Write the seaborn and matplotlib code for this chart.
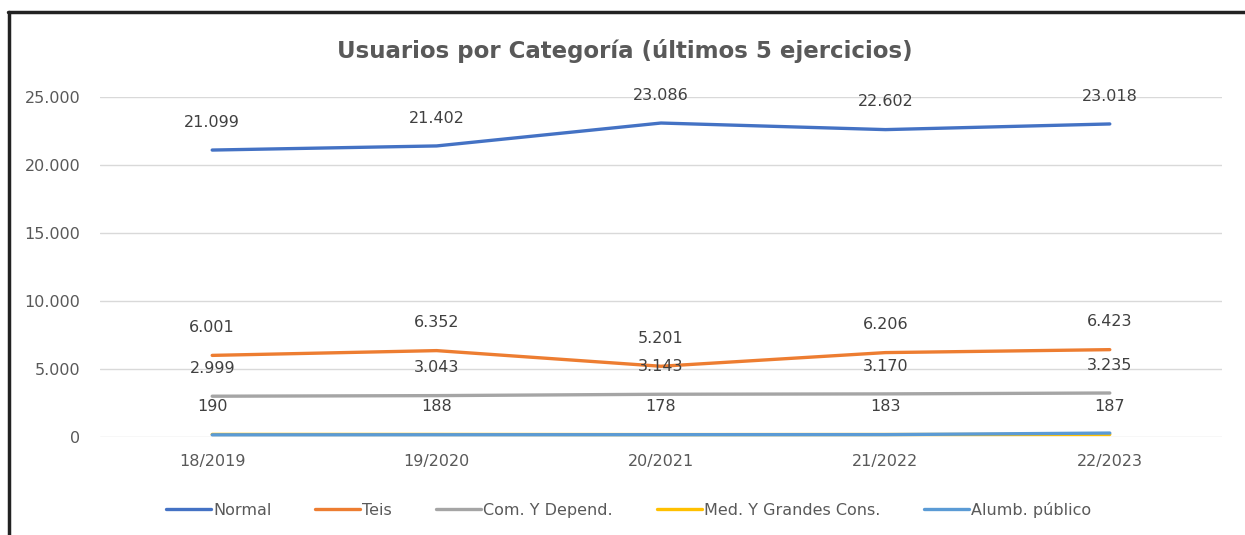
import pandas as pd
import seaborn as sns
import matplotlib.pyplot as plt
from matplotlib.lines import Line2D
from matplotlib.ticker import FuncFormatter

# datos
ejercicios = ["18/2019", "19/2020", "20/2021", "21/2022", "22/2023"]
normal = [21099, 21402, 23086, 22602, 23018]
teis = [6001, 6352, 5201, 6206, 6423]
com_depend = [2999, 3043, 3143, 3170, 3235]
med_grandes = [190, 188, 178, 183, 187]
alumbrado = [160, 165, 170, 175, 290]

series = {
    "Normal": normal,
    "Teis": teis,
    "Com. Y Depend.": com_depend,
    "Med. Y Grandes Cons.": med_grandes,
    "Alumb. público": alumbrado,
}
colores = ["#4472C4", "#ED7D31", "#A5A5A5", "#FFC000", "#5B9BD5"]
con_etiquetas = ["Normal", "Teis", "Com. Y Depend.", "Med. Y Grandes Cons."]

filas = []
for nombre, valores in series.items():
    for i, v in enumerate(valores):
        filas.append({"Ejercicio": i, "Categoria": nombre, "Usuarios": v})
df = pd.DataFrame(filas)

sns.set_style("white")
plt.rcParams["font.family"] = ["DejaVu Sans"]

fig = plt.figure(figsize=(12.45, 5.35), dpi=100)
ax = fig.add_axes([100 / 1245, 98 / 535, 1122 / 1245, 340 / 535])

sns.lineplot(data=df, x="Ejercicio", y="Usuarios", hue="Categoria",
             palette=colores, linewidth=2.4, ax=ax, legend=False)

# etiquetas de valor
fmt = lambda v: f"{v:,.0f}".replace(",", ".")
for nombre in con_etiquetas:
    for i, v in enumerate(series[nombre]):
        ax.annotate(fmt(v), (i, v), xytext=(0, 20), textcoords="offset points",
                    ha="center", va="center", fontsize=11.5, color="#404040")

ax.set_xlim(-0.5, len(ejercicios) - 0.5)
ax.set_ylim(0, 25000)
ax.set_yticks(range(0, 25001, 5000))
ax.yaxis.set_major_formatter(FuncFormatter(lambda v, p: fmt(v)))
ax.set_xticks(range(len(ejercicios)))
ax.set_xticklabels(ejercicios)
ax.grid(axis="y", color="#D9D9D9", linewidth=1)
ax.set_axisbelow(True)
for s in ax.spines.values():
    s.set_visible(False)
ax.tick_params(axis="both", length=0, labelsize=11.5, labelcolor="#595959")
ax.tick_params(axis="y", pad=14)
ax.tick_params(axis="x", pad=12)
ax.set_xlabel("")
ax.set_ylabel("")

fig.text(0.502, 1 - 51 / 535, "Usuarios por Categoría (últimos 5 ejercicios)",
         ha="center", va="center", fontsize=16.5, fontweight="bold", color="#595959")

handles = [Line2D([0], [0], color=c, linewidth=2.4) for c in colores]
fig.legend(handles, list(series.keys()), loc="center", bbox_to_anchor=(0.505, 1 - 510 / 535),
           ncol=5, frameon=False, fontsize=11.5, handlelength=2.8, handletextpad=0.15,
           columnspacing=2.75, labelcolor="#595959")

# marco de la captura
fig.add_artist(Line2D([8 / 1245, 1], [1 - 12 / 535, 1 - 12 / 535], color="#222222", linewidth=2.5))
fig.add_artist(Line2D([9 / 1245, 9 / 1245], [0, 1 - 12 / 535], color="#222222", linewidth=2.5))

plt.savefig("out.png", dpi=100)
